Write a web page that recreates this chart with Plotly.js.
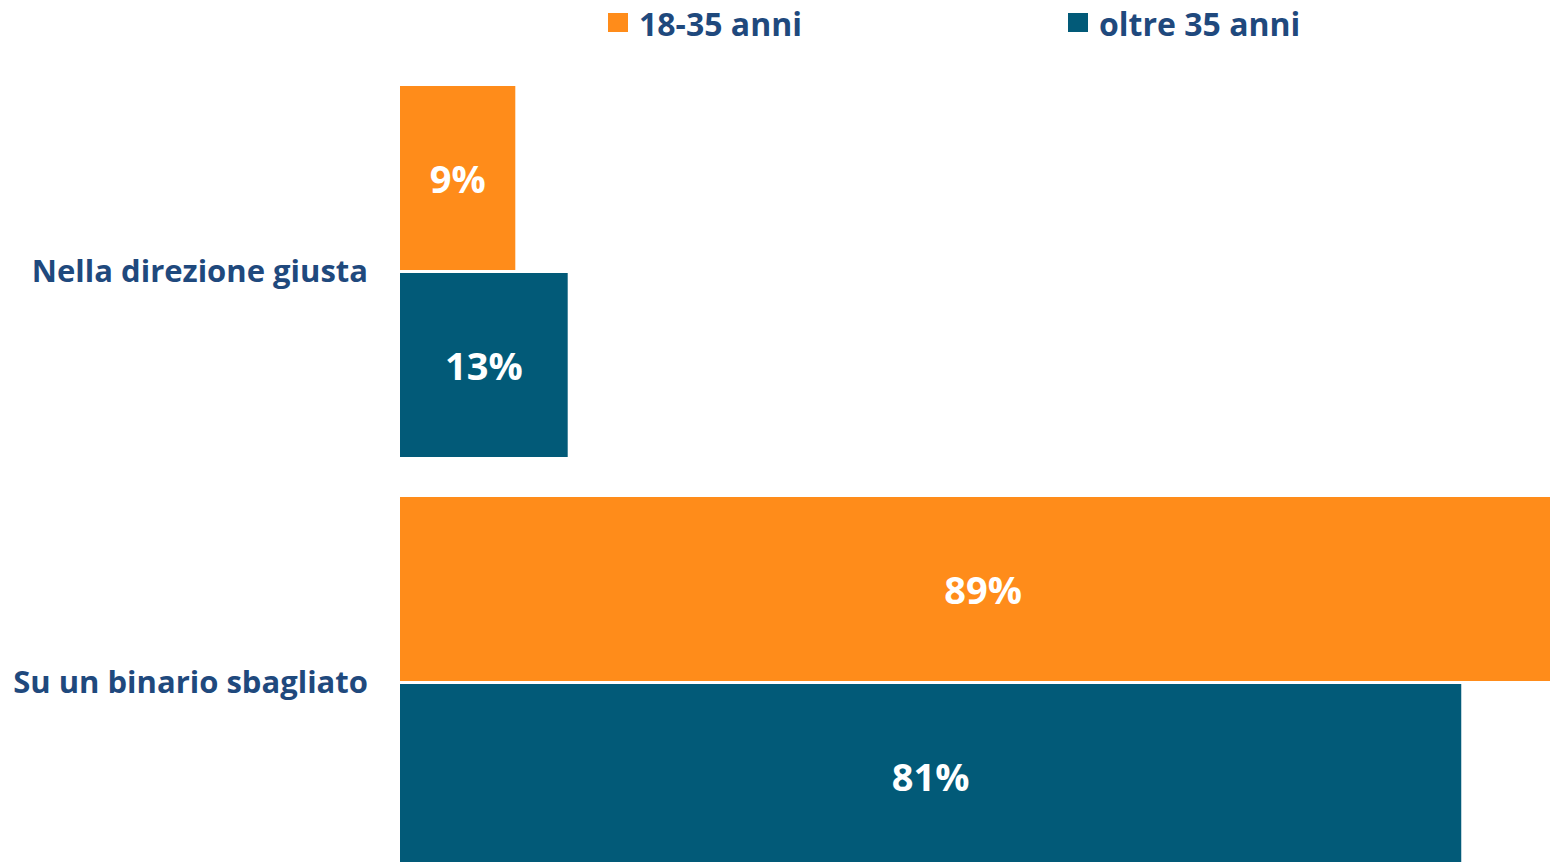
<!DOCTYPE html>
<html><head><meta charset="utf-8">
<script src="https://cdn.plot.ly/plotly-3.0.1.min.js"></script>
<style>html,body{margin:0;padding:0;overflow:hidden;background:#fff;}#chart{width:1570px;height:890px;}</style>
</head><body><div id="chart"></div>
<script>
const categories = ['Nella direzione giusta', 'Su un binario sbagliato'];
const seriesNames = ['18-35 anni', 'oltre 35 anni'];
// values; labels as printed on the bars
const young = [8.8, 89];
const older = [12.8, 81];
const youngLabels = ['9%', '89%'];
const olderLabels = ['13%', '81%'];
const colors = ['#FF8C1A', '#025A78'];
const textColor = '#1F497D';

const W = 1570, H = 890, ML = 400, MT = 66, MB = 2, MR = 0;
const PW = W - ML - MR, PH = H - MT - MB;
const xp = px => (px - ML) / PW;
const yp = py => (MT + PH - py) / PH;

const font = 'Open Sans, sans-serif';
const mk = (vals, labels, i) => ({
  type: 'bar', orientation: 'h', y: categories, x: vals, name: seriesNames[i],
  marker: {color: colors[i]}, text: labels,
  textposition: 'inside', insidetextanchor: 'middle',
  textfont: {family: font, size: 38, color: '#ffffff', weight: 700},
  hoverinfo: 'skip', showlegend: false
});

const legendX = [608, 1068];
const shapes = legendX.map((x, i) => ({
  type: 'rect', xref: 'paper', yref: 'paper',
  x0: xp(x), x1: xp(x + 20), y0: yp(32), y1: yp(13),
  fillcolor: colors[i], line: {width: 0}
}));
const annotations = legendX.map((x, i) => ({
  xref: 'paper', yref: 'paper', x: xp(x + 29), y: yp(24),
  xanchor: 'left', yanchor: 'middle', showarrow: false,
  text: seriesNames[i], font: {family: font, size: 32, color: textColor, weight: 700}
}));

Plotly.newPlot('chart', [mk(young, youngLabels, 0), mk(older, olderLabels, 1)], {
  width: W, height: H,
  margin: {l: ML, r: MR, t: MT, b: MB},
  barmode: 'group', bargap: 0.09, bargroupgap: 0.016,
  paper_bgcolor: '#fff', plot_bgcolor: '#fff',
  showlegend: false,
  xaxis: {range: [0, 89.3], visible: false, fixedrange: true},
  yaxis: {type: 'category', autorange: 'reversed', showgrid: false, zeroline: false,
    showline: false, ticks: '', ticklabelstandoff: 31,
    tickfont: {family: font, size: 31, color: textColor, weight: 700}},
  shapes: shapes, annotations: annotations,
  uniformtext: {mode: false}
}, {staticPlot: true});
</script></body></html>
